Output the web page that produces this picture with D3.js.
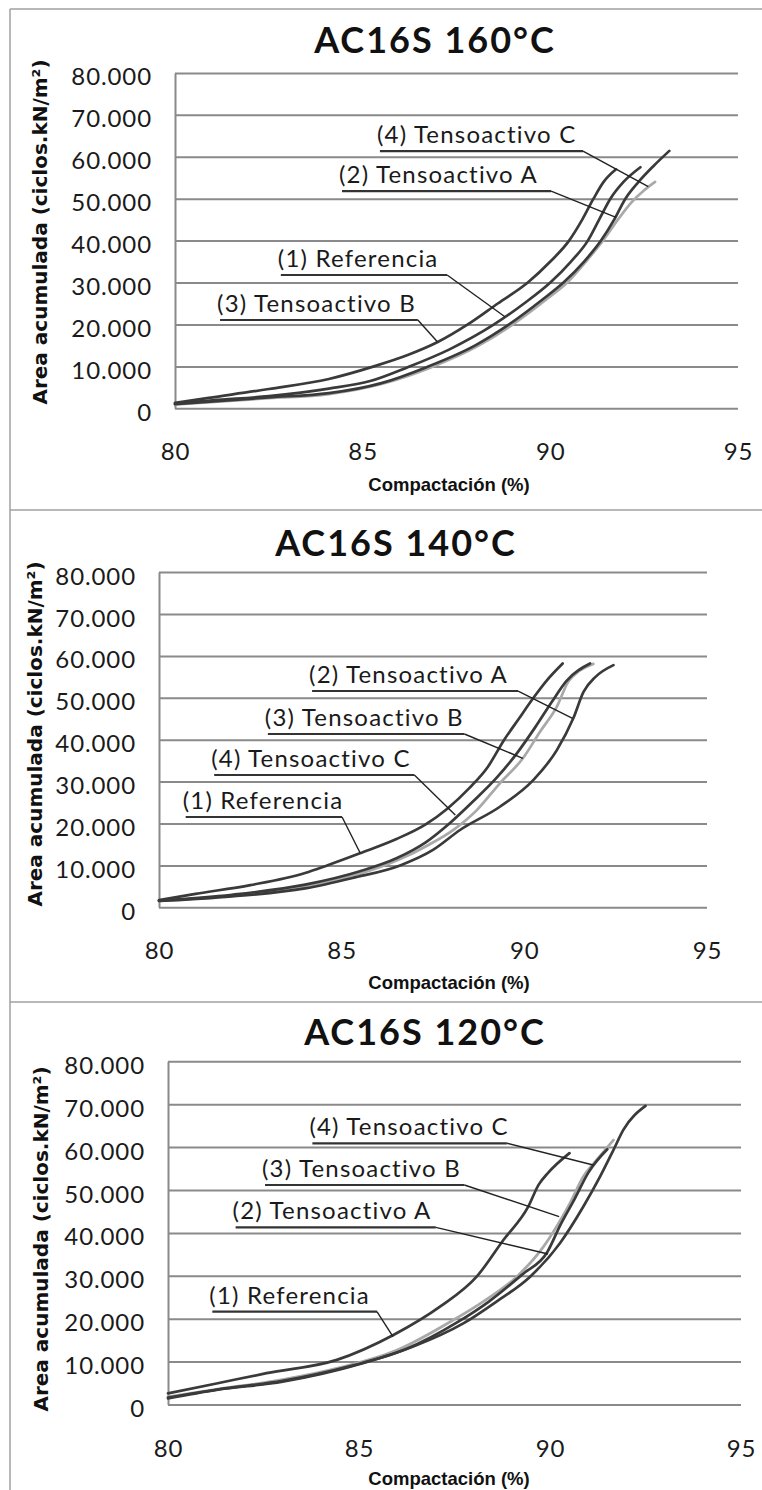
<!DOCTYPE html>
<html><head><meta charset="utf-8">
<script src="https://cdn.jsdelivr.net/npm/d3@7"></script>
<style>body{margin:0;background:#fff}svg{display:block}</style>
</head><body>
<svg id="chart" width="762" height="1490"></svg>
<script>
// ---------------- DATA ----------------
const xTicks = [80, 85, 90, 95];
const yTicks = [0, 10000, 20000, 30000, 40000, 50000, 60000, 70000, 80000];
const titles = ["AC16S 160°C", "AC16S 140°C", "AC16S 120°C"];
const xTitle = "Compactación (%)";
const yTitle = "Area acumulada (ciclos.kN/m²)";
const seriesNames = ["(1) Referencia", "(2) Tensoactivo A", "(3) Tensoactivo B", "(4) Tensoactivo C"];

// Panel 1 : 160°C  [compactación %, área acumulada]
const p160_ref = [[80,1100],[81,1900],[82.5,2900],[84.1,4700],[85.2,6500],[86.2,9800],[87.3,14000],[88.5,20000],[89.3,25000],[90,30000],[90.55,35000],[91,40000],[91.3,45000],[91.6,50000],[91.95,54000],[92.4,57500]];
const p160_A   = [[80,1000],[82.5,2600],[84.1,3600],[85.5,6000],[86.7,9800],[88,15000],[88.9,20000],[89.8,26000],[90.35,30000],[90.9,35000],[91.35,40000],[91.7,45000],[92,50000],[92.35,54000],[92.75,57800],[93.17,61400]];
const p160_B   = [[80,1300],[80.9,2500],[82.5,4600],[84.1,7000],[85.3,10000],[86.2,12700],[87,15800],[87.8,20000],[88.6,25000],[89.4,30000],[90,35000],[90.5,40000],[90.85,45000],[91.15,50000],[91.42,54000],[91.75,57000]];
const p160_C   = [[80,900],[82.5,2400],[84.1,3400],[85.5,5800],[86.8,9700],[88.1,15000],[89,20000],[89.9,26000],[90.45,30000],[90.95,35000],[91.4,40000],[91.8,45000],[92.15,49000],[92.5,52000],[92.79,54000]];

// Panel 2 : 140°C
const p140_ref = [[80,1700],[81,3200],[82.5,5300],[84,8200],[84.6,10000],[85.5,12900],[86.5,16300],[87.3,19800],[87.9,23600],[88.5,28500],[89,33500],[89.45,40000],[89.85,45000],[90.25,50000],[90.6,54000],[91.05,58200]];
const p140_A   = [[80,1500],[82,2600],[84,4500],[85.3,7000],[86.6,10000],[87.5,13700],[88.24,18450],[89.33,24000],[90.25,30400],[90.89,37500],[91.34,45100],[91.62,51400],[91.95,55000],[92.44,57800]];
const p140_B   = [[80,1500],[82,2800],[84,5000],[85.5,8000],[86.6,11500],[87.4,15000],[88.06,18500],[88.7,23200],[89.33,29600],[89.96,35560],[90.43,41900],[90.89,47900],[91.2,53800],[91.5,56400],[91.89,58100]];
const p140_C   = [[80,1600],[82,3000],[84,5400],[85.5,8600],[86.5,11700],[87.3,15500],[87.95,20000],[88.6,25300],[89.25,31000],[89.8,36800],[90.3,43000],[90.75,49000],[91.15,54000],[91.8,58200]];

// Panel 3 : 120°C
const p120_ref = [[80,2600],[81.27,4900],[82.58,7300],[84.42,10400],[85.9,16200],[87.12,22800],[88.08,29800],[88.78,38350],[89.43,46100],[89.7,51200],[89.95,54000],[90.51,58600]];
const p120_A   = [[80,1400],[81.27,3400],[83,5300],[85.1,9600],[86.42,13500],[87.73,18900],[88.6,24000],[89.48,29800],[90.26,37600],[90.87,46100],[91.31,53100],[91.66,59300],[91.92,64000],[92.5,69600]];
const p120_B   = [[80,1600],[81.3,3500],[83,5500],[84.8,9000],[86.2,12800],[87.6,19300],[88.4,24000],[89.3,30500],[89.91,35240],[90.28,42000],[90.65,48000],[91,54000],[91.5,59500]];
const p120_C   = [[80,1800],[81.3,3600],[83,5800],[84.5,8600],[86,12700],[87.47,19700],[88.25,24000],[89.13,29800],[89.83,36800],[90.17,41450],[90.52,46900],[90.87,53100],[91.22,57000],[91.66,61650]];

// Callout labels per panel, in series order (Ref, A, B, C):
// underline start x, underline end x, underline y, pointer tip x, pointer tip y (data units)
const p160_labels = [[82.82,87.25,31790,88.79,21850],[84.45,90.02,51820,91.75,45550],[81.2,86.47,21060,86.99,15880],[85.46,90.87,61360,92.61,52850]];
const p140_labels = [[80.73,85.01,21550,85.51,12890],[84.19,89.83,51620,91.32,45110],[82.98,88.36,41360,89.96,35560],[81.51,86.99,31580,88.11,22030]];
const p120_labels = [[81.16,85.47,21630,85.89,15800],[81.77,87.01,41300,89.95,35080],[82.54,87.76,51170,90.24,43780],[83.78,88.87,60890,91.13,55830]];

// which series is drawn in light grey in each panel
const p160_grey = [false, false, false, true];
const p140_grey = [false, false, true, false];
const p120_grey = [false, false, false, true];

// ---------------- LAYOUT ----------------
const panels = [
  {series:[p160_ref,p160_A,p160_B,p160_C], labels:p160_labels, grey:p160_grey, title:titles[0],
   frameY:9, x0:175, x1:738, yBot:408.3, yTop:72.9, titleX:435, titleY:53, ytX:40, ytY:232, xtX:449, xtY:491},
  {series:[p140_ref,p140_A,p140_B,p140_C], labels:p140_labels, grey:p140_grey, title:titles[1],
   frameY:510, x0:159, x1:707, yBot:907.3, yTop:572.1, titleX:396, titleY:556, ytX:35, ytY:734, xtX:449, xtY:989},
  {series:[p120_ref,p120_A,p120_B,p120_C], labels:p120_labels, grey:p120_grey, title:titles[2],
   frameY:1002, x0:168, x1:741, yBot:1404.5, yTop:1061.3, titleX:425, titleY:1045, ytX:41, ytY:1239, xtX:449, xtY:1485}
];

const svg = d3.select("#chart");
const locale = d3.formatLocale({decimal:",", thousands:".", grouping:[3], currency:["",""]});
const fmt = locale.format(",d");
const DARK = "#3a3a3a", GREY = "#a9a9a9", GRID = "#8a8a8a";
const TICKFONT = "Lato, 'Open Sans', sans-serif";

// frame
const frame = svg.append("g").attr("fill","none").attr("stroke","#a0a0a0").attr("stroke-width",1.5);
frame.append("line").attr("x1",10).attr("x2",10).attr("y1",panels[0].frameY).attr("y2",1490);
panels.forEach(p => frame.append("line").attr("x1",10).attr("x2",762).attr("y1",p.frameY).attr("y2",p.frameY));

panels.forEach(p => {
  const x = d3.scaleLinear().domain([80,95]).range([p.x0,p.x1]);
  const y = d3.scaleLinear().domain([0,80000]).range([p.yBot,p.yTop]);
  const g = svg.append("g");

  // y axis + gridlines
  const ya = g.append("g").attr("transform",`translate(${p.x0},0)`)
    .call(d3.axisLeft(y).tickValues(yTicks).tickFormat(fmt).tickSizeInner(-(p.x1-p.x0)).tickSizeOuter(0).tickPadding(23));
  ya.select(".domain").attr("stroke",GRID).attr("stroke-width",2);
  ya.selectAll(".tick line").attr("stroke",GRID).attr("stroke-width",2);
  ya.selectAll(".tick text").attr("dy",null).attr("y",12)
    .style("font-family",TICKFONT).style("font-size","24px").style("letter-spacing","0.9px").attr("fill","#1a1a1a");

  // x axis labels
  const xa = g.append("g").attr("transform",`translate(0,${p.yBot})`)
    .call(d3.axisBottom(x).tickValues(xTicks).tickSize(0));
  xa.select(".domain").remove();
  xa.selectAll(".tick text").attr("dy",null).attr("y",52)
    .style("font-family",TICKFONT).style("font-size","24px").style("letter-spacing","0.9px").attr("fill","#1a1a1a");

  // curves
  const line = d3.line().x(d=>x(d[0])).y(d=>y(d[1])).curve(d3.curveMonotoneX);
  const order = [0,1,2,3].sort((a,b)=> (p.grey[b]?1:0)-(p.grey[a]?1:0));
  order.forEach(i => {
    g.append("path").datum(p.series[i]).attr("d",line).attr("fill","none")
      .attr("stroke", p.grey[i]?GREY:DARK).attr("stroke-width",2.7).attr("stroke-linejoin","round").attr("stroke-linecap","round");
  });

  // callouts
  p.labels.forEach((L,i) => {
    const [ux1,ux2,uy,tx,ty] = L;
    g.append("line").attr("x1",x(ux1)).attr("x2",x(ux2)).attr("y1",y(uy)).attr("y2",y(uy))
      .attr("stroke","#333").attr("stroke-width",2.2);
    g.append("line").attr("x1",x(ux2)).attr("y1",y(uy)).attr("x2",x(tx)).attr("y2",y(ty))
      .attr("stroke","#222").attr("stroke-width",1.4);
    g.append("text").attr("x",x(ux1)-3).attr("y",y(uy)-8).text(seriesNames[i])
      .style("font-family",TICKFONT).style("font-size","24px").style("letter-spacing","1.2px").attr("fill","#1a1a1a");
  });

  // titles
  g.append("text").attr("x",p.titleX).attr("y",p.titleY).attr("text-anchor","middle").text(p.title)
    .style("font-family",TICKFONT).style("font-weight","bold").style("font-size","36px").style("letter-spacing","2px").attr("fill","#111");
  g.append("text").attr("x",p.xtX).attr("y",p.xtY).attr("text-anchor","middle").text(xTitle)
    .style("font-family","'Liberation Sans', Arial, sans-serif").style("font-weight","bold").style("font-size","18.5px").attr("fill","#111");
  g.append("text").attr("transform",`translate(${p.ytX+7},${p.ytY}) rotate(-90)`).attr("text-anchor","middle").text(yTitle)
    .style("font-family","'DejaVu Sans', sans-serif").style("font-weight","bold").style("font-size","20px").attr("fill","#111");
});
</script>
</body></html>
